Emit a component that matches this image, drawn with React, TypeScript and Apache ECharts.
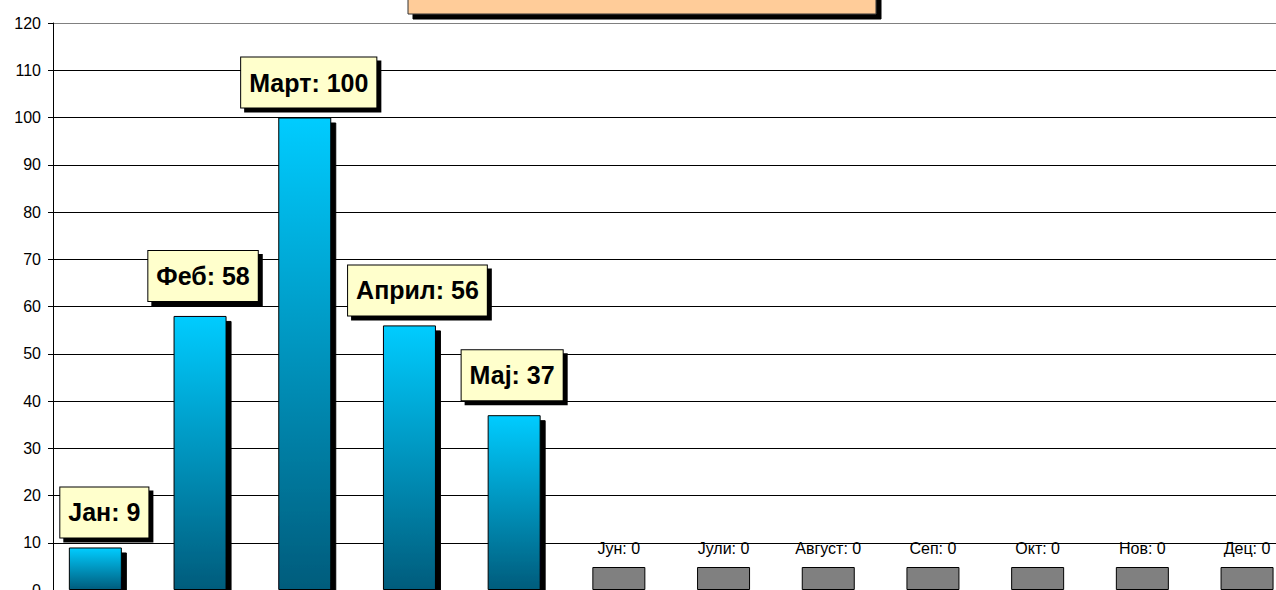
import React, { useEffect, useRef } from "react";
import * as echarts from "echarts";

const categories = ["Јан", "Феб", "Март", "Април", "Мај", "Јун", "Јули", "Август", "Сеп", "Окт", "Нов", "Дец"];
const values = [9, 58, 100, 56, 37, 0, 0, 0, 0, 0, 0, 0];
const yMin = 0;
const yMax = 120;
const yStep = 10;

// nudges of the callout boxes [dx, dy] (style only)
const labelNudge: [number, number][] = [
  [9, 0], [3, -5], [4, 0], [8, 0], [-2, -5],
  [0, 0], [0, 0], [0, 0], [0, 0], [0, 0], [0, 0], [0, 0],
];

export default function App() {
  const ref = useRef<HTMLDivElement>(null);
  useEffect(() => {
    if (!ref.current) return;
    const chart = echarts.init(ref.current, null, { renderer: "svg" });
    const gridCount = (yMax - yMin) / yStep + 1;
    const splitColors = Array.from({ length: gridCount }, (_, i) => (i === gridCount - 1 ? "#808080" : "#000000"));
    const data = values.map((v, i) => {
      if (v > 0) {
        return {
          value: v,
          itemStyle: {
            color: new echarts.graphic.LinearGradient(0, 0, 0, 1, [
              { offset: 0, color: "#00CCFF" },
              { offset: 1, color: "#005C7C" },
            ]),
            borderColor: "#000",
            borderWidth: 1,
            shadowColor: "#000",
            shadowBlur: 0,
            shadowOffsetX: 5,
            shadowOffsetY: 5,
          },
          label: {
            show: true,
            position: "top",
            distance: 10,
            offset: labelNudge[i],
            formatter: "{b}: {c}",
            fontFamily: "Liberation Sans, Arial, sans-serif",
            fontWeight: "bold",
            fontSize: 25,
            lineHeight: 28,
            color: "#000",
            backgroundColor: "#FFFFCC",
            borderColor: "#000",
            borderWidth: 1,
            padding: [11, 8, 11, 8],
            shadowColor: "#000",
            shadowBlur: 0,
            shadowOffsetX: 4,
            shadowOffsetY: 4,
          },
        };
      }
      return {
        value: v,
        itemStyle: {
          color: "#808080",
          borderColor: "#000",
          borderWidth: 1,
        },
        label: {
          show: true,
          position: "top",
          distance: 11,
          formatter: "{b}: {c}",
          fontFamily: "Liberation Sans, Arial, sans-serif",
          fontSize: 16,
          color: "#000",
        },
      };
    });

    chart.setOption({
      animation: false,
      backgroundColor: "#fff",
      grid: { left: 53, top: 23, width: 1256.4, height: 567, containLabel: false, outerBoundsMode: "none" },
      xAxis: {
        type: "category",
        data: categories,
        axisLabel: { show: false },
        axisTick: { show: false },
        axisLine: { show: true, lineStyle: { color: "#000" } },
      },
      yAxis: {
        type: "value",
        min: yMin,
        max: yMax,
        interval: yStep,
        axisLine: { show: true, lineStyle: { color: "#000", width: 1 } },
        axisTick: { show: true, length: 5, lineStyle: { color: "#000" } },
        axisLabel: {
          color: "#000",
          fontFamily: "Liberation Sans, Arial, sans-serif",
          fontSize: 16,
          margin: 12,
        },
        splitLine: { show: true, lineStyle: { color: splitColors, width: 1 } },
      },
      graphic: [
        {
          type: "rect",
          shape: { x: 408, y: -40, width: 468, height: 54 },
          style: {
            fill: "#FFCC99",
            stroke: "#333",
            lineWidth: 1,
            shadowColor: "#000",
            shadowBlur: 0,
            shadowOffsetX: 5,
            shadowOffsetY: 5,
          },
          z: 100,
        },
      ],
      series: [
        {
          type: "bar",
          data,
          barWidth: 53,
          barGap: "0%",
          barMinHeight: 23,
          z: 3,
        },
        {
          type: "bar",
          data: [],
          barWidth: 20,
          barGap: "0%",
          silent: true,
        },
      ],
    });
    return () => chart.dispose();
  }, []);
  return <div ref={ref} style={{ position: "fixed", left: 0, top: 0, width: 1276, height: 590 }} />;
}
